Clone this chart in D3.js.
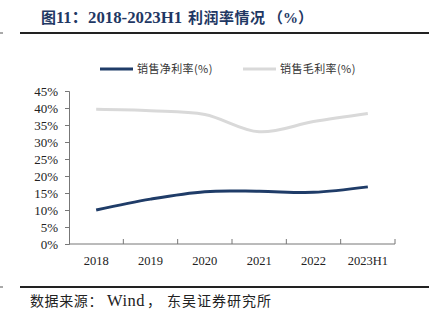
<!DOCTYPE html>
<html><head><meta charset="utf-8">
<script src="https://cdn.jsdelivr.net/npm/d3@7"></script>
<style>body{margin:0;background:#fff}svg{display:block}</style>
</head><body>
<script>
const categories = ["2018","2019","2020","2021","2022","2023H1"];
const netMargin = [10.0, 13.2, 15.4, 15.5, 15.2, 16.8];
const grossMargin = [39.6, 39.2, 38.1, 33.0, 36.0, 38.4];
const yTicks = [0,5,10,15,20,25,30,35,40,45];
const seriesNames = ["销售净利率(%)","销售毛利率(%)"];
const colors = ["#1f3c68","#d9d9d9"];

const W=429,H=327;
const svg=d3.select("body").append("svg").attr("width",W).attr("height",H);
const serif="'Liberation Serif','Times New Roman',serif";
const cjk="'Noto Sans CJK SC',sans-serif";

// title
const tt=svg.append("text").attr("y",23).attr("fill","#1f3864")
  .attr("font-family",serif+",'Noto Sans CJK SC'").attr("font-weight","bold");
tt.append("tspan").attr("x",41).attr("font-size",15).text("图");
tt.append("tspan").attr("font-size",16.5).text("11：");
tt.append("tspan").attr("x",88).attr("font-size",16.8).text("2018-2023H1");
tt.append("tspan").attr("x",188).attr("font-size",15).attr("letter-spacing",0.5).text("利润率情况");
tt.append("tspan").attr("x",268).attr("font-size",15).text("（%）");
svg.append("line").attr("x1",20).attr("x2",429).attr("y1",33).attr("y2",33).attr("stroke","#222").attr("stroke-width",2);
svg.append("line").attr("x1",0).attr("x2",3).attr("y1",33).attr("y2",33).attr("stroke","#555").attr("stroke-width",1);

const x=d3.scaleBand().domain(categories).range([69,395]);
const y=d3.scaleLinear().domain([0,45]).range([244,91]);

const gY=svg.append("g").attr("transform","translate(69,0)")
  .call(d3.axisLeft(y).tickValues(yTicks).tickFormat(d=>d+"%").tickSize(4).tickPadding(7));
gY.select(".domain").attr("stroke","#777");
gY.selectAll(".tick line").attr("stroke","#777");
gY.selectAll("text").attr("font-family",serif).attr("font-size",13).attr("fill","#222");

const gX=svg.append("g").attr("transform","translate(0,244)")
  .call(d3.axisBottom(x).tickSize(0).tickPadding(12));
gX.select(".domain").attr("stroke","#777").attr("d","M69,0H395");
gX.selectAll("text").attr("font-family",serif).attr("font-size",12.5).attr("fill","#222");
gX.selectAll(".bt").data(categories).enter().append("line")
  .attr("x1",(d,i)=>69+(i+1)*x.step()).attr("x2",(d,i)=>69+(i+1)*x.step())
  .attr("y1",0).attr("y2",-5).attr("stroke","#777");

const line=d3.line().x((d,i)=>x(categories[i])+x.bandwidth()/2).y(d=>y(d)).curve(d3.curveCatmullRom.alpha(0.5));
[grossMargin,netMargin].forEach((s,k)=>{
  svg.append("path").attr("d",line(s)).attr("fill","none")
    .attr("stroke",k===0?colors[1]:colors[0]).attr("stroke-width",3);
});

// legend
const leg=[{x:100,c:colors[0],t:seriesNames[0]},{x:243,c:colors[1],t:seriesNames[1]}];
leg.forEach(l=>{
  svg.append("line").attr("x1",l.x).attr("x2",l.x+33).attr("y1",69).attr("y2",69).attr("stroke",l.c).attr("stroke-width",3);
  svg.append("text").attr("x",l.x+37).attr("y",73).attr("font-family",cjk).attr("font-size",11).attr("letter-spacing",0.4).attr("fill","#333").text(l.t);
});

// footer
svg.append("line").attr("x1",20).attr("x2",429).attr("y1",287).attr("y2",287).attr("stroke","#222").attr("stroke-width",2);
svg.append("line").attr("x1",0).attr("x2",3).attr("y1",287).attr("y2",287).attr("stroke","#555").attr("stroke-width",1);
const ft=svg.append("text").attr("y",306).attr("font-family",serif+",'Noto Sans CJK SC'").attr("font-size",14).attr("fill","#222");
ft.append("tspan").attr("x",30).attr("letter-spacing",0.6).text("数据来源：");
ft.append("tspan").attr("x",107).attr("font-size",16.5).attr("letter-spacing",0.5).text("Wind");
ft.append("tspan").attr("x",147).text("，");
ft.append("tspan").attr("x",167).attr("letter-spacing",1).text("东吴证券研究所");
</script>
</body></html>
